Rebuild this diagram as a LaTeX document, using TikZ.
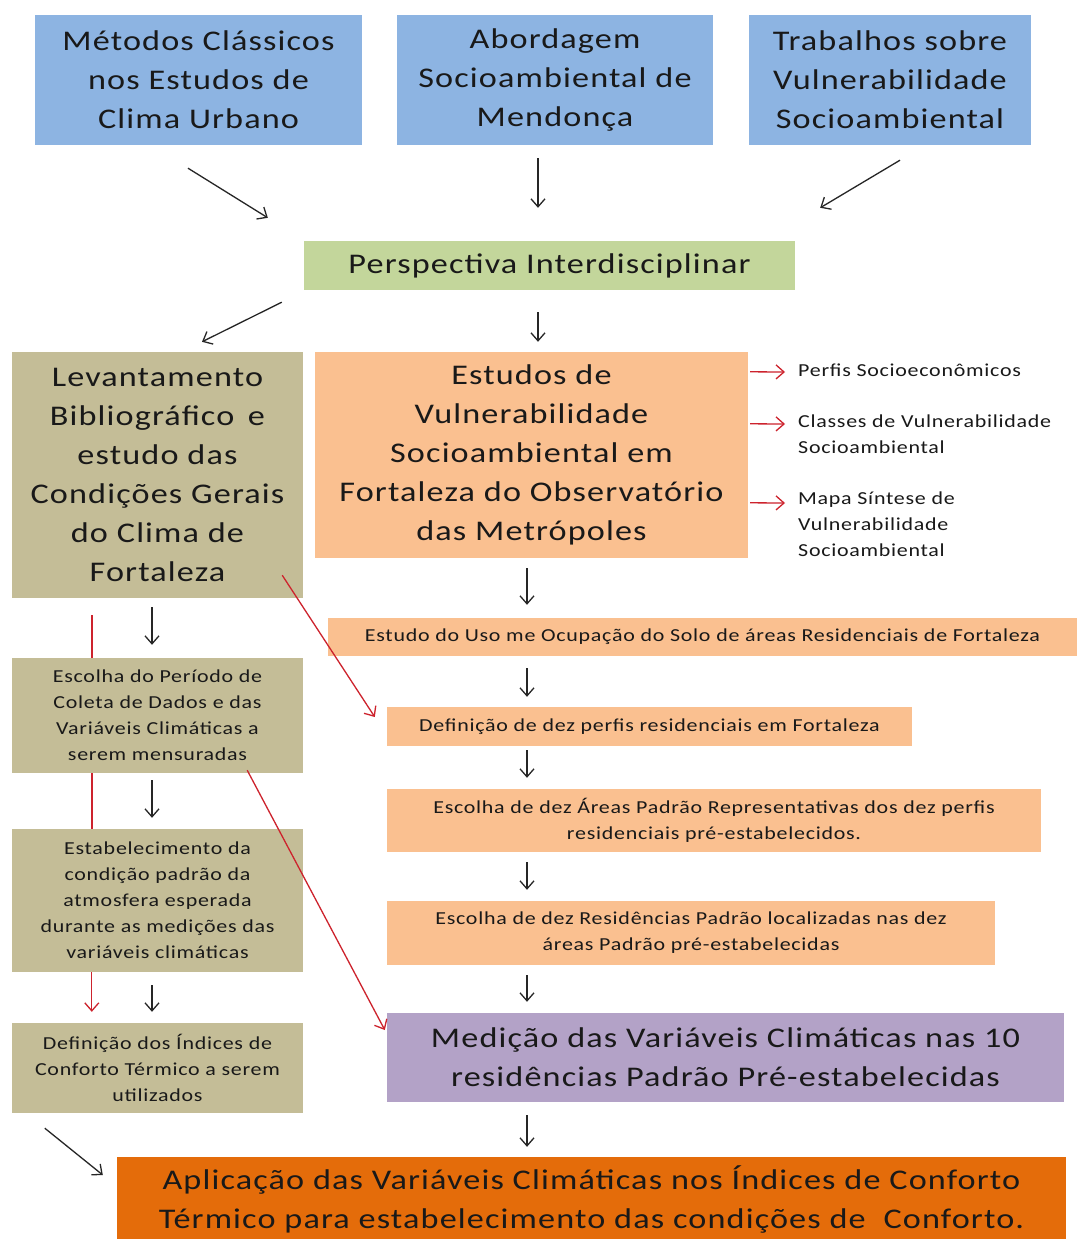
\documentclass[tikz,border=0pt]{standalone}
\usepackage{fontspec}
\setmainfont{Carlito}[FakeStretch=1.2, LetterSpace=4]
\usetikzlibrary{arrows.meta,calc}
\definecolor{cblue}{RGB}{141,180,226}
\definecolor{cgreen}{RGB}{195,214,155}
\definecolor{ctan}{RGB}{196,189,151}
\definecolor{cpeach}{RGB}{250,192,144}
\definecolor{cpurple}{RGB}{179,162,199}
\definecolor{corange}{RGB}{228,108,10}
\definecolor{cred}{RGB}{205,35,45}
\definecolor{ctext}{RGB}{25,25,25}
\begin{document}
\begin{tikzpicture}[x=1pt,y=-1pt,
  box/.style={rectangle, inner sep=0pt, align=center, text=ctext},
  big/.style={font=\fontsize{28.5}{39}\selectfont},
  small/.style={font=\fontsize{18.3}{26}\selectfont},
  lbl/.style={inner sep=0pt, align=left, anchor=north west, text=ctext, font=\fontsize{18.3}{26}\selectfont},
  arr/.style={-{Straight Barb[length=8pt,width=14pt]}, line width=1.3pt, draw=black!85},
  rarr/.style={arr, draw=cred},
  rline/.style={line width=1.5pt, draw=cred},
]
\path[use as bounding box, fill=white] (0,0) rectangle (1077,1239);

% top row
\node[box, big, fill=cblue, minimum width=327pt, minimum height=130pt] (b1) at (198.5,80) {Métodos Clássicos\\nos Estudos de\\Clima Urbano};
\node[box, big, fill=cblue, minimum width=316pt, minimum height=130pt] (b2) at (555,80) {Abordagem\\Socioambiental de\\Mendonça};
\node[box, big, fill=cblue, minimum width=282pt, minimum height=130pt] (b3) at (890,80) {Trabalhos sobre\\Vulnerabilidade\\Socioambiental};

\node[box, big, fill=cgreen, minimum width=491pt, minimum height=49pt] (green) at (549.5,265.5) {Perspectiva Interdisciplinar};

% second level
\node[box, big, fill=ctan, minimum width=291pt, minimum height=246pt] (lev) at (157.5,475) {Levantamento\\Bibliográfico\, e\\estudo das\\Condições Gerais\\do Clima de\\Fortaleza};
\node[box, big, fill=cpeach, minimum width=433pt, minimum height=206pt] (est) at (531.5,455) {Estudos de\\Vulnerabilidade\\Socioambiental em\\Fortaleza do Observatório\\das Metrópoles};

\node[lbl] (p1) at (798,364) {Perfis Socioeconômicos};
\node[lbl] (p2) at (798,415) {Classes de Vulnerabilidade\\Socioambiental};
\node[lbl] (p3) at (798,492) {Mapa Síntese de\\Vulnerabilidade\\Socioambiental};

% right column
\node[box, small, fill=cpeach, minimum width=749pt, minimum height=38pt] (uso) at (702.5,637) {Estudo do Uso me Ocupação do Solo de áreas Residenciais de Fortaleza};
\node[box, small, fill=cpeach, minimum width=525pt, minimum height=39pt] (def) at (649.5,726.5) {Definição de dez perfis residenciais em Fortaleza};
\node[box, small, fill=cpeach, minimum width=654pt, minimum height=63pt] (areas) at (714,820.5) {Escolha de dez Áreas Padrão Representativas dos dez perfis\\residenciais pré-estabelecidos.};
\node[box, small, fill=cpeach, minimum width=608pt, minimum height=64pt] (resid) at (691,933) {Escolha de dez Residências Padrão localizadas nas dez\\áreas Padrão pré-estabelecidas};
\node[box, big, fill=cpurple, minimum width=677pt, minimum height=89pt] (med) at (725.5,1057.5) {Medição das Variáveis Climáticas nas 10\\residências Padrão Pré-estabelecidas};
\node[box, big, fill=corange, minimum width=949pt, minimum height=84pt] (apl) at (591.5,1199) {Aplicação das Variáveis Climáticas nos Índices de Conforto\\Térmico para estabelecimento das condições de\ \ Conforto.};

% left column
\node[box, small, fill=ctan, minimum width=291pt, minimum height=115pt] (esc) at (157.5,715.5) {Escolha do Período de\\Coleta de Dados e das\\Variáveis Climáticas a\\serem mensuradas};
\node[box, small, fill=ctan, minimum width=291pt, minimum height=143pt] (estab) at (157.5,900.5) {Estabelecimento da\\condição padrão da\\atmosfera esperada\\durante as medições das\\variáveis climáticas};
\node[box, small, fill=ctan, minimum width=291pt, minimum height=90pt] (ind) at (157.5,1068) {Definição dos Índices de\\Conforto Térmico a serem\\utilizados};

% black arrows
\draw[arr] ($(b1.south)+(-10.5,23)$) -- ($(green.north west)+(-36,-23)$);
\draw[arr] ($(b2.south)+(-17,13)$) -- ($(green.north)+(-11.5,-33)$);
\draw[arr] ($(b3.south)+(10,15)$) -- ($(green.north east)+(25,-33)$);
\draw[arr] ($(green.south west)+(-22,12)$) -- ($(lev.north)+(44.5,-10)$);
\draw[arr] ($(green.south)+(-11.5,22)$) -- ($(est.north)+(6.5,-10)$);
\draw[arr] ($(est.south)+(-4.5,10)$) -- ($(uso.north)+(-175.5,-13)$);
\draw[arr] ($(uso.south)+(-175.5,12)$) -- ($(def.north)+(-122.5,-10)$);
\draw[arr] ($(def.south)+(-122.5,4)$) -- ($(areas.north)+(-187,-11)$);
\draw[arr] ($(areas.south)+(-187,10)$) -- ($(resid.north)+(-164,-11)$);
\draw[arr] ($(resid.south)+(-164,10)$) -- ($(med.north)+(-198.5,-11)$);
\draw[arr] ($(med.south)+(-198.5,13)$) -- ($(apl.north)+(-64.5,-10)$);
\draw[arr] ($(lev.south)+(-5.5,9)$) -- ($(esc.north)+(-5.5,-13)$);
\draw[arr] ($(esc.south)+(-5.5,7)$) -- ($(estab.north)+(-5.5,-11)$);
\draw[arr] ($(estab.south)+(-5.5,13)$) -- ($(ind.north)+(-5.5,-11)$);
\draw[arr] ($(ind.south west)+(33,15)$) -- ($(apl.west)+(-14,-24)$);

% red side arrows
\draw[rarr] ($(est.north east)+(2,20)$) -- ($(p1.north west)+(-13,8)$);
\draw[rarr] ($(est.north east)+(2,72)$) -- ($(p2.north west)+(-13,9)$);
\draw[rarr] ($(est.north east)+(2,151)$) -- ($(p3.north west)+(-13,11)$);

% red left line
\draw[rline] ($(lev.south west)+(80,17)$) -- ($(esc.north west)+(80,0)$);
\draw[rline] ($(esc.south west)+(80,0)$) -- ($(estab.north west)+(80,0)$);
\draw[rarr] ($(estab.south west)+(80,0)$) -- ($(ind.north west)+(80,-11)$);

% red diagonals
\draw[rarr] ($(lev.south east)+(-21,-23)$) -- ($(def.west)+(-12,-9.5)$);
\draw[rarr] ($(esc.south east)+(-56,-3)$) -- ($(med.west)+(-2,-27.5)$);
\end{tikzpicture}
\end{document}
